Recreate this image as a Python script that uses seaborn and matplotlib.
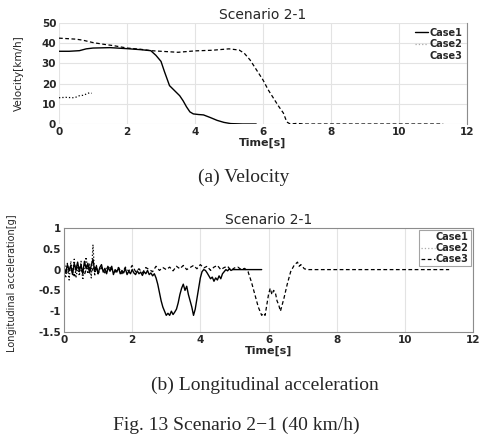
import numpy as np
import pandas as pd
import matplotlib
matplotlib.use("Agg")
import matplotlib.pyplot as plt
import seaborn as sns

# ---------------- data ----------------
case_names = ["Case1", "Case2", "Case3"]
x_ticks = [0, 2, 4, 6, 8, 10, 12]
vel_ticks = [0, 10, 20, 30, 40, 50]
acc_ticks = [-1.5, -1, -0.5, 0, 0.5, 1]
acc_tick_labels = ["-1.5", "-1", "-0.5", "0", "0.5", "1"]

# Velocity [km/h]
vel1_t = [0, 0.3, 0.6, 0.8, 1.0, 1.5, 2.0, 2.4, 2.7, 2.85, 3.0, 3.1, 3.25, 3.4, 3.55,
          3.65, 3.75, 3.85, 3.95, 4.1, 4.25, 4.45, 4.65, 4.85, 5.05, 5.4, 5.8]
vel1_v = [36, 36, 36.3, 37.2, 37.6, 37.8, 37.3, 36.8, 36.3, 34, 31, 26, 19, 16.5, 14,
          11.5, 8.5, 6, 5, 4.7, 4.5, 3.2, 1.8, 0.8, 0.2, 0, 0]
vel2_t = [0, 0.2, 0.4, 0.5, 0.6, 0.7, 0.8, 0.9, 0.96]
vel2_v = [13, 13.2, 13, 13.3, 14, 14.2, 14.8, 15.5, 15.2]
vel3_t = [0, 0.2, 0.5, 0.7, 1.0, 1.3, 1.6, 2.0, 2.4, 2.7, 3.0, 3.5, 4.0, 4.5, 5.0, 5.3,
          5.45, 5.62, 5.8, 6.0, 6.15, 6.3, 6.45, 6.6, 6.7, 6.8, 7.0, 7.2, 8.0, 9.0, 10.0, 11.3]
vel3_v = [42.5, 42.3, 42, 41.5, 40.3, 39.5, 38.8, 37.6, 37, 36.3, 36, 35.5, 36.2, 36.5, 37.2, 36.6,
          35, 31.7, 27, 21.8, 17, 13, 9, 5.4, 1, 0, 0.3, 0, 0, 0, 0, 0]

# Longitudinal acceleration [g]
acc_step = 0.05
acc1_v = [0.05, -0.08, 0.12, -0.02, 0.1, -0.12, 0.15, 0.0, 0.18, -0.05, 0.12, -0.1, 0.2, 0.02,
          0.15, -0.08, 0.1, 0.25, -0.05, 0.08, -0.1, 0.05, 0.12, -0.06, 0.03, -0.1, 0.06, -0.04,
          0.08, -0.12, 0.0, -0.06, 0.05, -0.1, -0.02, -0.08, 0.03, -0.12, -0.04, -0.1, 0.0, -0.08,
          -0.12, -0.03, -0.1, -0.06, -0.14, -0.05, -0.1, -0.02, -0.12, -0.08, -0.15, -0.1,
          -0.2, -0.35, -0.55, -0.75, -0.9, -1.0, -1.1, -1.05, -1.1, -1.0, -1.08, -1.02, -0.95,
          -0.8, -0.6, -0.45, -0.35, -0.5, -0.4, -0.6, -0.75, -0.9, -1.1, -0.95, -0.7, -0.45,
          -0.2, -0.05, 0.0, -0.02, -0.08, -0.15, -0.22, -0.18, -0.28, -0.2, -0.25, -0.15, -0.22,
          -0.1, -0.05, 0.0, -0.03, 0.02, -0.02, 0.0, 0, 0, 0, 0, 0, 0, 0, 0, 0, 0, 0, 0, 0, 0,
          0, 0, 0]
acc2_v = [0.1, -0.2, 0.15, -0.25, 0.2, -0.1, 0.25, -0.2, 0.05, -0.15, 0.2, -0.25, 0.1, 0.3,
          -0.1, 0.15, -0.2, 0.6, -0.15, 0.1, -0.05]
acc3_noise_step = 0.1
acc3_noise = [0.15, -0.1, 0.05, -0.15, 0.1, 0.0, -0.12, 0.12, -0.05, 0.08, -0.1, 0.05, -0.08,
              0.1, 0.0, -0.06, 0.05, -0.1, 0.06, -0.04, 0.1, -0.05, 0.02, -0.08, 0.05, 0.0,
              -0.05, 0.08, -0.02, 0.05, 0.0, 0.06, -0.03, 0.08, 0.02, 0.1, 0.0, 0.05, 0.1, 0.02,
              0.12, 0.04, 0.08, -0.02, 0.06, 0.1, 0.0, 0.05, 0.08, -0.02, 0.04, 0.06, 0.0, 0.03,
              -0.05]
acc3_tail_t = [5.5, 5.6, 5.7, 5.8, 5.85, 5.9, 5.95, 6.0, 6.05, 6.1, 6.15, 6.2, 6.25, 6.3, 6.35,
               6.45, 6.55, 6.65, 6.75, 6.85, 6.9, 6.95, 7.05, 7.15, 8.0, 9.0, 10.0, 11.3]
acc3_tail_v = [-0.3, -0.6, -0.9, -1.1, -1.05, -1.1, -0.85, -0.6, -0.45, -0.6, -0.5, -0.55, -0.75,
               -0.85, -1.0, -0.7, -0.35, -0.05, 0.1, 0.18, 0.08, 0.12, 0.02, 0, 0, 0, 0, 0]

acc1_t = np.arange(len(acc1_v)) * acc_step
acc2_t = np.arange(len(acc2_v)) * acc_step
acc3_t = list(np.arange(len(acc3_noise)) * acc3_noise_step) + acc3_tail_t
acc3_v = acc3_noise + acc3_tail_v

# ---------------- style ----------------
sns.set_style("white")
plt.rcParams["font.family"] = ["DejaVu Sans"]

fig = plt.figure(figsize=(5.01, 4.46), dpi=100)
ax1 = fig.add_axes([59 / 501, 1 - 124 / 446, 408 / 501, 101 / 446])
ax2 = fig.add_axes([64 / 501, 1 - 332 / 446, 409 / 501, 104 / 446])

grid_c = "#e3e3e3"
spine_c = "#8c8c8c"

# ---- top: velocity ----
sns.lineplot(x=vel1_t, y=vel1_v, ax=ax1, color="black", lw=1.0, label=case_names[0],
             estimator=None, sort=False)
sns.lineplot(x=vel2_t, y=vel2_v, ax=ax1, color="black", lw=0.9, linestyle=":", label=case_names[1],
             estimator=None, sort=False)
sns.lineplot(x=vel3_t, y=vel3_v, ax=ax1, color="black", lw=0.9, linestyle=(0, (3, 2)),
             label=case_names[2], estimator=None, sort=False)
ax1.set_xlim(0, 12)
ax1.set_ylim(0, 50)
ax1.set_xticks(x_ticks)
ax1.set_yticks(vel_ticks)
ax1.grid(True, color=grid_c, lw=0.8)
for s in ["top", "left", "bottom"]:
    ax1.spines[s].set_visible(False)
ax1.spines["right"].set_color(spine_c)
ax1.spines["right"].set_linewidth(0.8)
ax1.set_title("Scenario 2-1", fontsize=10, pad=3)
ax1.set_xlabel("Time[s]", fontsize=8, fontweight="bold", labelpad=1)
ax1.set_ylabel("Velocity[km/h]", fontsize=7.5)
ax1.yaxis.set_label_coords(-0.085, 0.5)
leg1 = ax1.legend(loc="upper right", frameon=False, handlelength=1.4,
                  handletextpad=0.1, labelspacing=0.15, borderaxespad=0.1,
                  prop={"weight": "bold", "size": 7})
hl = leg1.get_lines()
hl[1].set_color("#aaaaaa")
hl[2].set_alpha(0)

# ---- bottom: acceleration ----
sns.lineplot(x=acc1_t, y=acc1_v, ax=ax2, color="black", lw=1.0, label=case_names[0],
             estimator=None, sort=False)
sns.lineplot(x=acc2_t, y=acc2_v, ax=ax2, color="black", lw=0.9, linestyle=":", label=case_names[1],
             estimator=None, sort=False)
sns.lineplot(x=acc3_t, y=acc3_v, ax=ax2, color="black", lw=0.9, linestyle=(0, (3, 2)),
             label=case_names[2], estimator=None, sort=False)
ax2.set_xlim(0, 12)
ax2.set_ylim(-1.5, 1)
ax2.set_xticks(x_ticks)
ax2.set_yticks(acc_ticks)
ax2.set_yticklabels(acc_tick_labels)
ax2.grid(True, axis="x", color=grid_c, lw=0.8)
for s in ax2.spines.values():
    s.set_color(spine_c)
    s.set_linewidth(0.8)
ax2.set_title("Scenario 2-1", fontsize=10, pad=3)
ax2.set_xlabel("Time[s]", fontsize=8, fontweight="bold", labelpad=1)
ax2.set_ylabel("Longitudinal acceleration[g]", fontsize=7)
ax2.yaxis.set_label_coords(-0.115, 0.47)
leg2 = ax2.legend(loc="upper right", frameon=True, fancybox=False, handlelength=1.4,
                  handletextpad=0.1, labelspacing=0.1, borderaxespad=0.25, borderpad=0.2,
                  prop={"weight": "bold", "size": 7})
leg2.get_frame().set_edgecolor(spine_c)
leg2.get_frame().set_linewidth(0.8)
hl2 = leg2.get_lines()
hl2[0].set_alpha(0)
hl2[1].set_color("#aaaaaa")

for ax in (ax1, ax2):
    ax.tick_params(length=0, pad=2, labelsize=7.5)
    for lab in ax.get_xticklabels() + ax.get_yticklabels():
        lab.set_fontweight("bold")

# ---- captions ----
serif = ["Liberation Serif", "DejaVu Serif"]
fig.text(244 / 501, 1 - 177 / 446, "(a) Velocity", ha="center", va="center",
         fontsize=14, family=serif)
fig.text(265 / 501, 1 - 385 / 446, "(b) Longitudinal acceleration", ha="center", va="center",
         fontsize=14, family=serif)
fig.text(236 / 501, 1 - 425 / 446, "Fig. 13 Scenario 2\u22121 (40 km/h)", ha="center",
         va="center", fontsize=14, family=serif)

fig.savefig("out.png", dpi=100)
